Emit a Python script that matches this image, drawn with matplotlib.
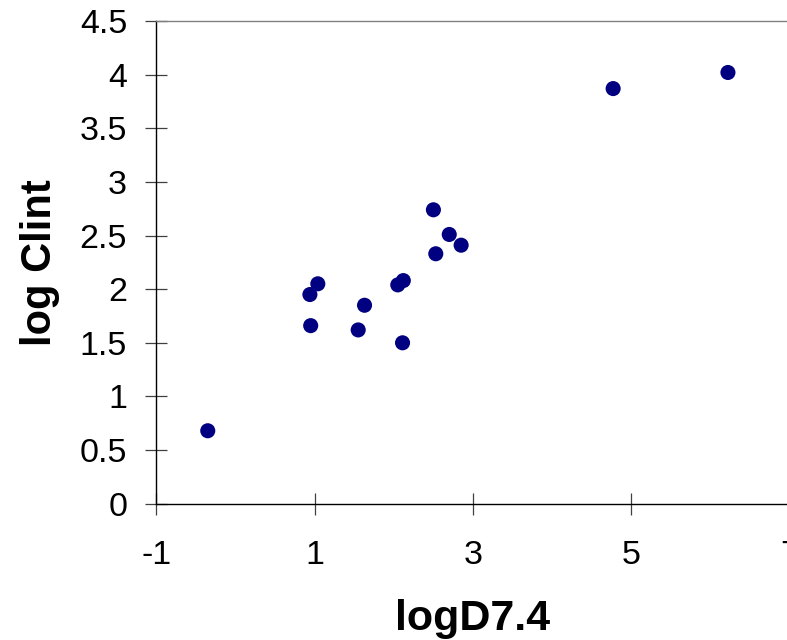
import matplotlib
matplotlib.use("Agg")
import matplotlib.pyplot as plt

plt.rcParams['font.family'] = ['Liberation Sans', 'DejaVu Sans']

# logD at pH 7.4 and log intrinsic clearance for each compound
log_d74 = [-0.35, 0.94, 0.95, 1.04, 1.55, 1.63, 2.05, 2.11, 2.12,
           2.50, 2.53, 2.70, 2.85, 4.77, 6.22]
log_clint = [0.68, 1.95, 1.66, 2.05, 1.62, 1.85, 2.04, 1.50, 2.08,
             2.74, 2.33, 2.51, 2.41, 3.87, 4.02]

x_ticks = [-1, 1, 3, 5, 7]
y_ticks = [0, 0.5, 1, 1.5, 2, 2.5, 3, 3.5, 4, 4.5]
y_tick_labels = ['0', '0.5', '1', '1.5', '2', '2.5', '3', '3.5', '4', '4.5']

W, H = 787, 640
fig = plt.figure(figsize=(W / 100, H / 100), dpi=100)
left, right, top, bottom = 156.3, 789.7, 21.0, 503.7
ax = fig.add_axes([left / W, 1 - bottom / H, (right - left) / W, (bottom - top) / H])

ax.scatter(log_d74, log_clint, s=118, color='#000080', edgecolors='none',
           zorder=3, clip_on=False)

ax.set_xlim(-1, 7)
ax.set_ylim(0, 4.5)
ax.set_xticks(x_ticks)
ax.set_xticklabels([str(t) for t in x_ticks])
ax.set_yticks(y_ticks)
ax.set_yticklabels(y_tick_labels)

ax.spines['right'].set_visible(False)
ax.spines['top'].set_color('#808080')
ax.spines['top'].set_linewidth(1.0)
for side in ('left', 'bottom'):
    ax.spines[side].set_color('black')
    ax.spines[side].set_linewidth(1.0)

ax.tick_params(axis='both', direction='inout', length=16, width=0.9,
               color='#404040', labelsize=24.5)
ax.tick_params(axis='y', pad=13)
ax.tick_params(axis='x', pad=18)

ax.set_xlabel('logD7.4', fontsize=31, fontweight='bold', labelpad=20)
ax.set_ylabel('log Clint', fontsize=30, fontweight='bold', labelpad=14)

fig.savefig('out.png', dpi=100)
